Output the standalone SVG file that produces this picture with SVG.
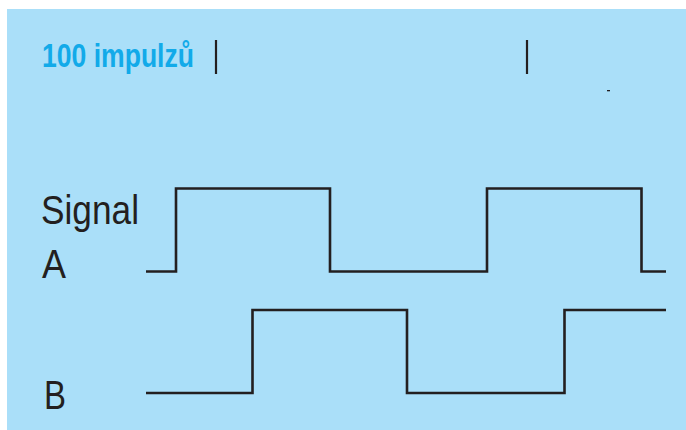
<svg xmlns="http://www.w3.org/2000/svg" width="686" height="430" viewBox="0 0 686 430">
<style>
.wave{fill:none;stroke:#231f20;stroke-width:2.6;stroke-linejoin:miter;stroke-linecap:butt}
.lbl{font-family:"Liberation Sans",Arial,sans-serif;font-size:40px;fill:#231f20}
.title{font-family:"Liberation Sans Narrow","Liberation Sans",Arial,sans-serif;font-weight:bold;font-size:32.5px;fill:#12aae9}
.bar{stroke:#231f20;stroke-width:2.2}
</style>
<rect x="0" y="0" width="686" height="430" fill="#ffffff"/>
<rect x="7" y="9" width="679" height="421" fill="#aadff9"/>
<g id="header">
<text class="title" x="42" y="67" textLength="152" lengthAdjust="spacingAndGlyphs">100 impulzů</text>
<line class="bar" x1="216" y1="40" x2="216" y2="74"/>
<line class="bar" x1="527" y1="40" x2="527" y2="74"/>
<rect x="607" y="90" width="3" height="1.3" fill="#231f20"/>
</g>
<g id="labels">
<text class="lbl" x="41" y="224" textLength="98" lengthAdjust="spacingAndGlyphs">Signal</text>
<text class="lbl" x="42" y="278" textLength="24" lengthAdjust="spacingAndGlyphs">A</text>
<text class="lbl" x="44" y="409" textLength="22" lengthAdjust="spacingAndGlyphs">B</text>
</g>
<g id="connectors">
<path id="signalA" class="wave" d="M146,271.5 H176 V188.5 H330 V271.5 H487 V188.5 H641.5 V271.5 H666"/>
<path id="signalB" class="wave" d="M146,393 H252.5 V310 H407 V393 H564.5 V310 H666"/>
</g>
</svg>
